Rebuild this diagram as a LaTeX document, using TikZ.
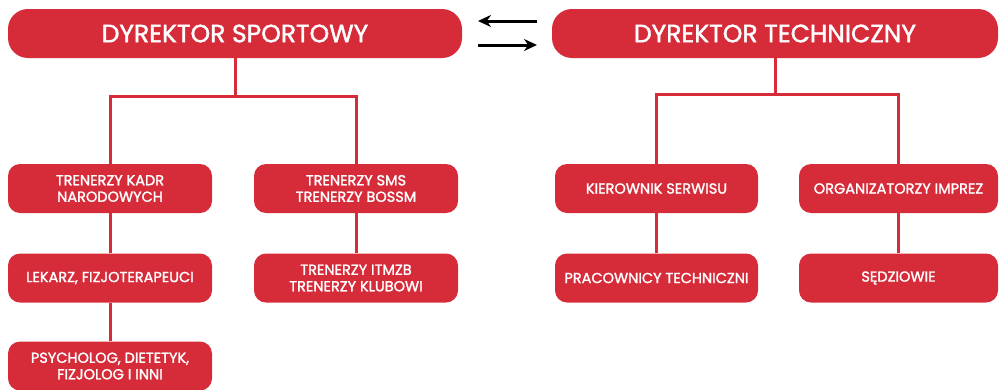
\documentclass[tikz,border=0pt]{standalone}
\usepackage{fontspec}
\setmainfont{Poppins}
\newfontfamily\boxfont{Poppins}[FakeBold=1.6]
\usetikzlibrary{arrows.meta}
\definecolor{boxred}{RGB}{214,44,58}
\tikzset{
  topbox/.style={fill=boxred, rounded corners=20pt, minimum height=49pt, inner sep=0pt, text=white, font=\boxfont\fontsize{25}{29}\selectfont},
  subbox/.style={fill=boxred, rounded corners=12pt, minimum width=204pt, minimum height=49pt, inner sep=0pt, text=white, align=center, font=\boxfont\fontsize{14.5}{16.5}\selectfont},
  link/.style={draw=boxred, line width=3pt},
  flow/.style={line width=3pt, -{Stealth[length=13pt,width=12pt]}}
}
\begin{document}
\begin{tikzpicture}[x=1pt,y=-1pt]
\useasboundingbox (0,0) rectangle (1000,389);
\node[topbox, minimum width=454pt] (ds) at (235,33.5) {DYREKTOR SPORTOWY};
\node[topbox, minimum width=446pt] (dt) at (775,33.5) {DYREKTOR TECHNICZNY};

\node[subbox] (tk) at (110,188.5) {TRENERZY KADR\\NARODOWYCH};
\node[subbox] (ts) at (356,188.5) {TRENERZY SMS\\TRENERZY BOSSM};
\node[subbox] (lek) at (110,278) {LEKARZ, FIZJOTERAPEUCI};
\node[subbox] (ti) at (356,278) {TRENERZY ITMZB\\TRENERZY KLUBOWI};
\node[subbox] (psy) at (110,366) {PSYCHOLOG, DIETETYK,\\FIZJOLOG I INNI};

\node[subbox, minimum width=203pt] (ks) at (656.5,188.5) {KIEROWNIK SERWISU};
\node[subbox, minimum width=199pt] (oi) at (898.5,188.5) {ORGANIZATORZY IMPREZ};
\node[subbox, minimum width=203pt] (pt) at (656.5,278) {PRACOWNICY TECHNICZNI};
\node[subbox, minimum width=199pt] (sd) at (898.5,278) {SĘDZIOWIE};

\draw[link] (ds.south) -- ++(0,38) coordinate (lbar) -| (tk.north);
\draw[link] (lbar) -| (ts.north);
\draw[link] (dt.south) -- ++(0,36) coordinate (rbar) -| (ks.north);
\draw[link] (rbar) -| (oi.north);
\draw[link] (tk) -- (lek);
\draw[link] (lek) -- (psy);
\draw[link] (ts) -- (ti);
\draw[link] (ks) -- (pt);
\draw[link] (oi) -- (sd);

\coordinate (a1s) at (537,21);
\coordinate (a1e) at (478,21);
\coordinate (a2s) at (478,45);
\coordinate (a2e) at (537,45);
\draw[flow] (a1s) -- (a1e);
\draw[flow] (a2s) -- (a2e);
\end{tikzpicture}
\end{document}
